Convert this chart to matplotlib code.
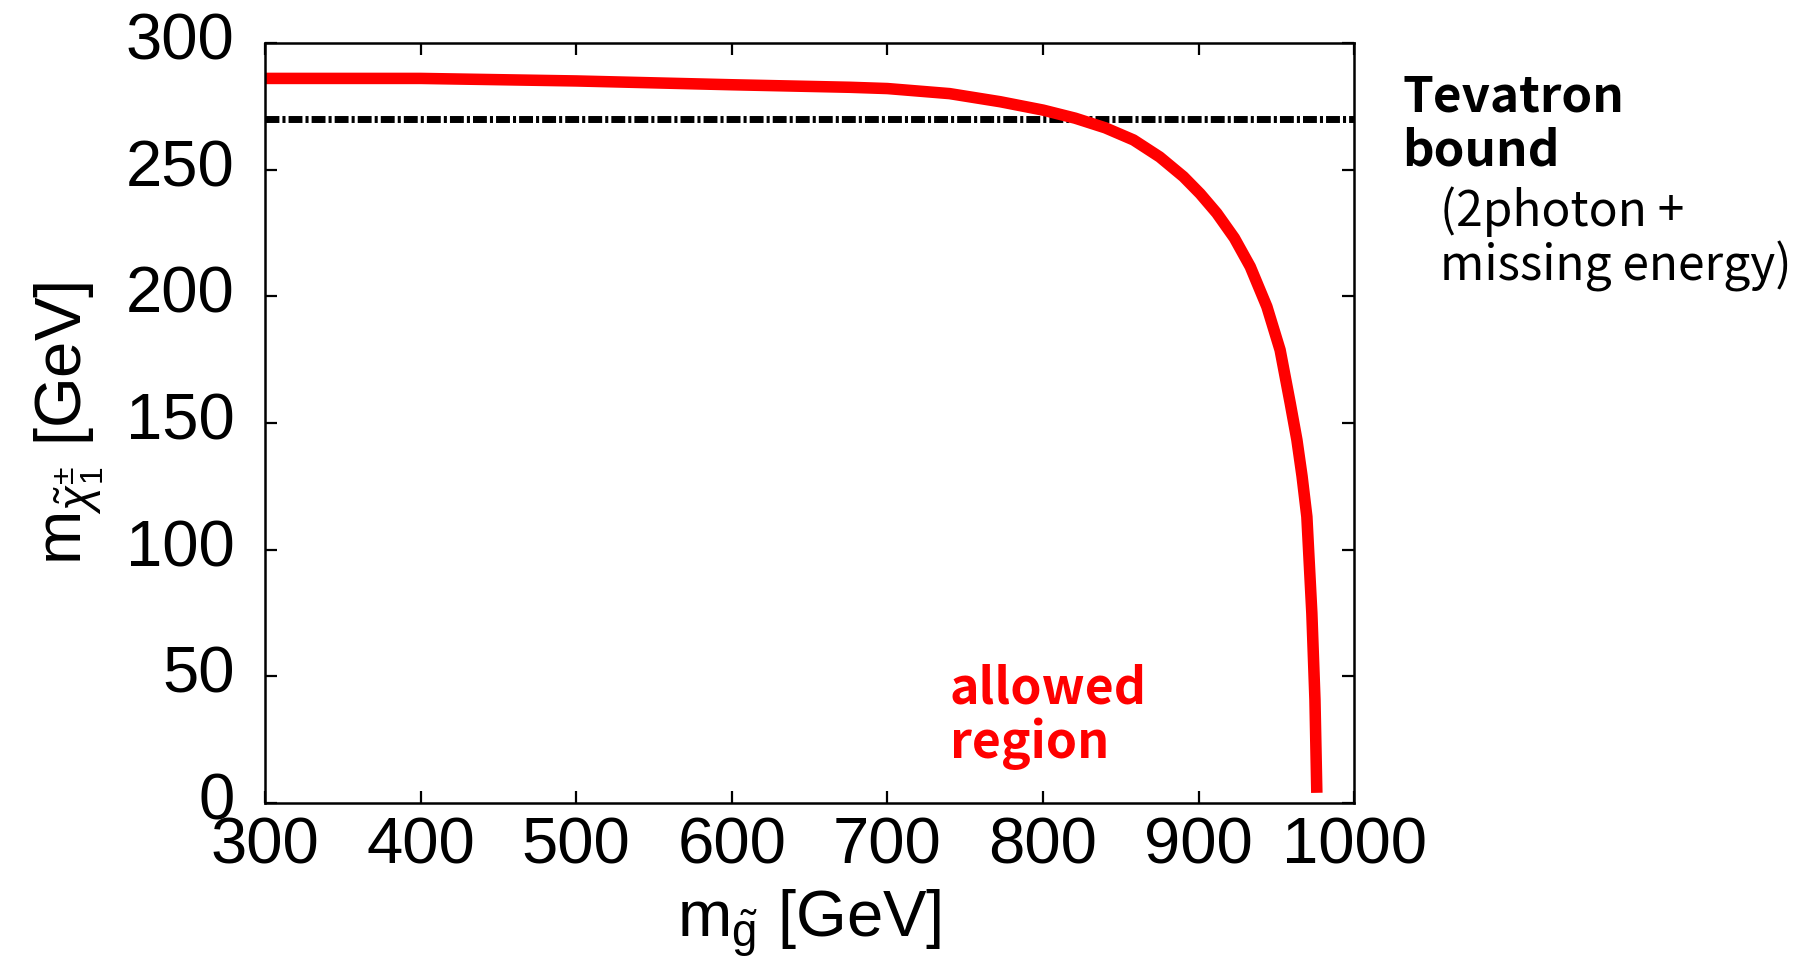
# gluino mass vs chargino mass bound plot

import matplotlib
matplotlib.use('Agg')
import matplotlib.pyplot as plt
import matplotlib.transforms as mtrans

plt.rcParams['mathtext.fontset'] = 'custom'
plt.rcParams['mathtext.rm'] = 'Liberation Sans'
plt.rcParams['mathtext.it'] = 'Liberation Sans:italic'
plt.rcParams['font.family'] = ['Liberation Sans', 'DejaVu Sans']
plt.rcParams['lines.scale_dashes'] = False

# allowed-region boundary
m_gluino = [300, 400, 500, 600, 676, 700, 740, 772.5, 800, 820.7, 840, 858.2,
            875, 890.3, 901, 911.7, 923, 933.2, 943.9, 952.4, 958.9, 963.2,
            966.5, 969.6, 972.8, 974.8, 976]
m_chargino = [286, 286, 285, 283.5, 282.5, 282, 280, 276.8, 273.5, 270.3, 266.5,
              261.7, 255, 247.2, 240.5, 232.8, 223, 211.7, 195.9, 178.8, 157.8,
              143.3, 129, 113, 74.9, 40.7, 4]
tevatron_bound = 270

x_ticks = [300, 400, 500, 600, 700, 800, 900, 1000]
y_ticks = [0, 50, 100, 150, 200, 250, 300]

fig = plt.figure(figsize=(18.07, 9.74), dpi=100)
ax = fig.add_axes([0.1467, 0.1756, 0.6027, 0.7803])

ax.axhline(tevatron_bound, color='black', lw=5, dashes=(10, 2.2, 2.2, 2.2))
ax.plot(m_gluino, m_chargino, color='#ff0000', lw=8.3, solid_capstyle='butt',
        solid_joinstyle='round')

ax.set_xlim(300, 1000)
ax.set_ylim(0, 300)
ax.set_xticks(x_ticks)
ax.set_yticks(y_ticks)
ax.tick_params(direction='in', length=8.5, width=1.6, top=True, right=True,
               labelsize=47)
ax.tick_params(axis='x', pad=10)
ax.tick_params(axis='y', pad=22)
for lab in ax.get_yticklabels():
    lab.set_transform(lab.get_transform() + mtrans.ScaledTranslation(0, 7/100, fig.dpi_scale_trans))
for s in ax.spines.values():
    s.set_linewidth(1.8)

ax.set_xlabel(r'm$_{\tilde{\mathrm{g}}}$ [GeV]', fontsize=47, labelpad=8)
ax.set_ylabel(r'm$_{\tilde{\chi}_1^{\pm}}$ [GeV]', fontsize=47, labelpad=14)

jp = ['Noto Sans CJK JP', 'DejaVu Sans']
fig.text(1402/1807, 1 - 165/974, 'Tevatron\nbound', family=jp, fontsize=35.5,
         fontweight='bold', ha='left', va='baseline', linespacing=1.12)
fig.text(1440/1807, 1 - 280/974, '(2photon +\nmissing energy)', family=jp,
         fontsize=34.5, ha='left', va='baseline', linespacing=1.08)
ax.text(740, 17.8, 'allowed\nregion', family=jp, fontsize=36, fontweight='bold',
        color='#ff0000', ha='left', va='baseline', linespacing=1.08)

fig.savefig('out.png', dpi=100)
